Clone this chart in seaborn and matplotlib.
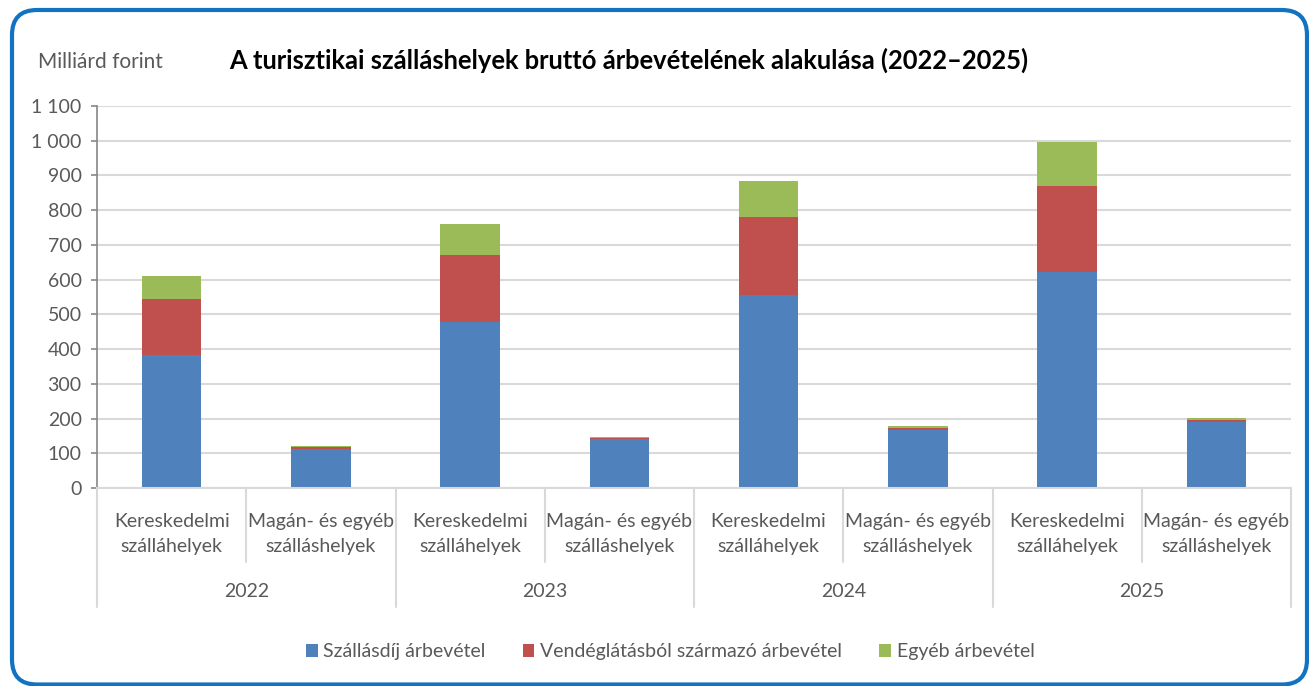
import numpy as np
import pandas as pd
import seaborn as sns
import matplotlib.pyplot as plt
from matplotlib.patches import FancyBboxPatch, Patch
from matplotlib.ticker import FuncFormatter

# Data (milliárd forint)
years = ['2022', '2023', '2024', '2025']
types = ['Kereskedelmi\nszálláhelyek', 'Magán- és egyéb\nszálláshelyek']
szallasdij = [384, 112, 478, 141, 556, 167, 621, 190]
vendeglatas = [159, 5, 194, 4, 224, 7, 249, 6]
egyeb = [67, 4, 87, 3, 104, 4, 127, 5]
series_names = ['Szállásdíj árbevétel', 'Vendéglátásból származó árbevétel', 'Egyéb árbevétel']

blue, red, green = '#4F81BD', '#C0504D', '#9BBB59'
grey_txt = '#595959'
grid_c = '#D9D9D9'

sns.set_theme(style='white')
plt.rcParams['font.family'] = ['Lato', 'DejaVu Sans']

df = pd.DataFrame({
    'bar': [f'{y}|{t}' for y in years for t in types],
    'szallasdij': szallasdij,
    'vendeglatas': vendeglatas,
    'egyeb': egyeb,
})
df['lvl2'] = df['szallasdij'] + df['vendeglatas']
df['lvl3'] = df['lvl2'] + df['egyeb']

fig = plt.figure(figsize=(13.09, 6.86), dpi=100, facecolor='white')
ax = fig.add_axes([97/1309, 1 - 488/686, (1291 - 97)/1309, (488 - 106)/686])

# stacked bars: draw cumulative totals back to front
for col, c in [('lvl3', green), ('lvl2', red), ('szallasdij', blue)]:
    sns.barplot(data=df, x='bar', y=col, color=c, saturation=1, width=0.4,
                errorbar=None, linewidth=0, ax=ax)

ax.set_xlim(-0.5, 7.5)
ax.set_ylim(0, 1100)
ax.set_yticks(range(0, 1101, 100))
ax.yaxis.set_major_formatter(FuncFormatter(lambda v, p: f'{v:,.0f}'.replace(',', ' ')))
ax.set_xticks([])
ax.set_xlabel('')
ax.set_ylabel('')
ax.yaxis.grid(True, color=grid_c, lw=1.5)
ax.set_axisbelow(True)
for s in ['top', 'right']:
    ax.spines[s].set_visible(False)
ax.spines['left'].set_color('#868686')
ax.spines['left'].set_linewidth(1.2)
ax.spines['bottom'].set_color(grid_c)
ax.spines['bottom'].set_linewidth(1.5)
ax.tick_params(axis='y', direction='out', left=True, length=4, width=1.2, color='#868686',
               labelcolor=grey_txt, labelsize=14, pad=7)

# two-level category axis
trans = ax.get_xaxis_transform()
for x in [0.5, 2.5, 4.5, 6.5]:
    ax.plot([x, x], [0, -0.194], transform=trans, clip_on=False, color=grid_c, lw=1.5)
for x in [-0.5, 1.5, 3.5, 5.5, 7.5]:
    ax.plot([x, x], [0, -0.3115], transform=trans, clip_on=False, color=grid_c, lw=1.5)
for i in range(len(df)):
    ax.text(i, -0.12, types[i % 2], transform=trans, ha='center', va='center',
            fontsize=14, color=grey_txt, linespacing=1.6)
for k, y in enumerate(years):
    ax.text(2*k + 0.5, -0.272, y, transform=trans, ha='center', va='center',
            fontsize=14, color=grey_txt)

fig.text(629/1309, 1 - 60/686,
         'A turisztikai szálláshelyek bruttó árbevételének alakulása (2022–2025)',
         ha='center', va='center', fontsize=18.4, fontweight='bold', color='black')
fig.text(38/1309, 1 - 62/686, 'Milliárd forint', ha='left', va='center',
         fontsize=15, color=grey_txt)

handles = [Patch(facecolor=c, edgecolor='none') for c in [blue, red, green]]
fig.legend(handles, series_names, loc='center', bbox_to_anchor=(0.512, 1 - 652/686),
           ncol=3, frameon=False, fontsize=14, labelcolor=grey_txt,
           handlelength=0.6, handleheight=0.6, handletextpad=0.3, columnspacing=1.9)

box = FancyBboxPatch((0.12, 0.015), 12.95, 6.745, boxstyle='round,pad=0,rounding_size=0.25',
                     transform=fig.dpi_scale_trans, fill=False, edgecolor='#1273C2',
                     lw=3, clip_on=False)
fig.add_artist(box)

fig.savefig('out.png', dpi=100, facecolor='white')
